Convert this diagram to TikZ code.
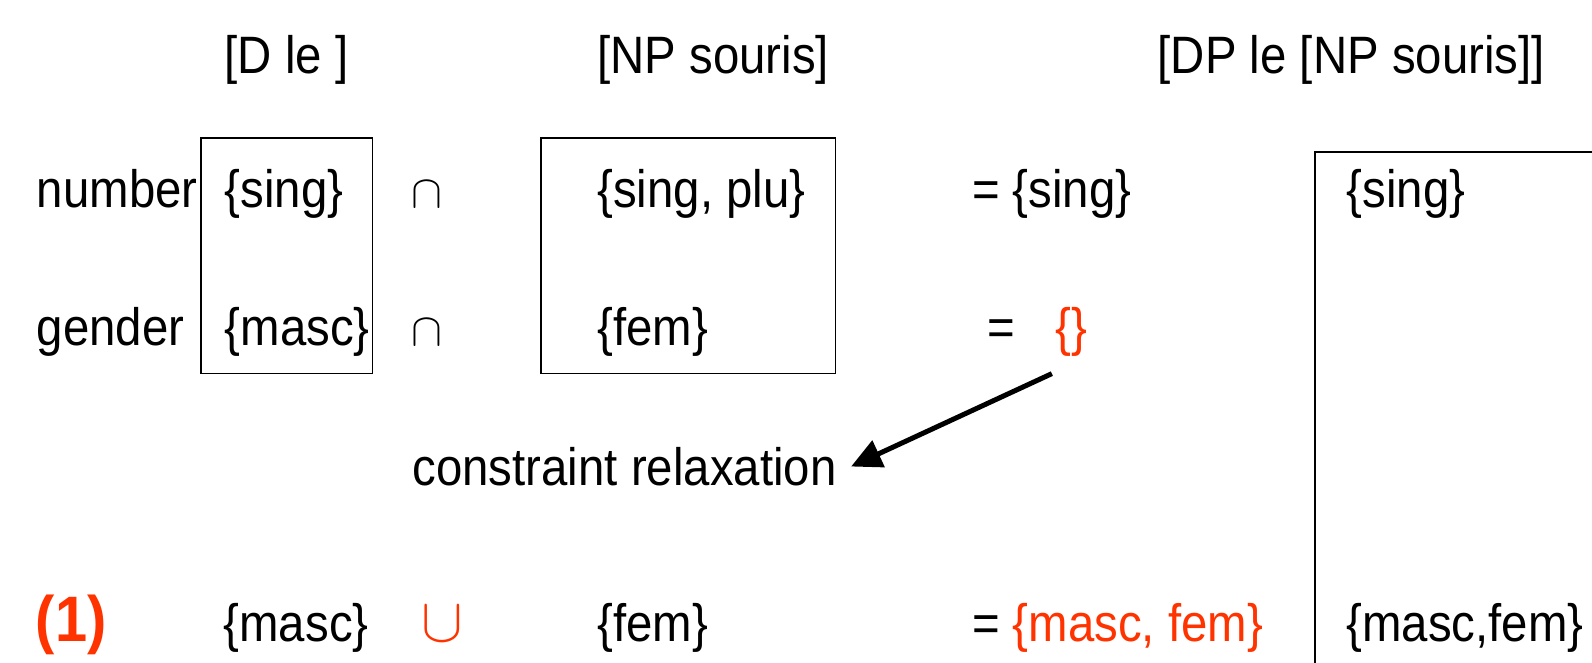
\documentclass[tikz,border=0pt]{standalone}
\usepackage{fontspec}
\setmainfont{Liberation Sans}[FakeStretch=0.9]
\usetikzlibrary{arrows.meta, positioning}
\definecolor{relaxred}{HTML}{FF3300}

\begin{document}
\begin{tikzpicture}[x=0.02cm, y=-0.02cm,
    feat/.style={font=\fontsize{29.5}{35}\selectfont, inner sep=0pt, anchor=base west},
    hot/.style={feat, text=relaxred},
    setop/.style={inner sep=0pt, anchor=base west},
    frame/.style={draw, line width=0.9pt}]
  \useasboundingbox (0,0) rectangle (1568,653);
  % Headers
  \node[feat] (dhead) at (221,72) {[D le ]};
  \node[feat] (nphead) at (588,72) {[NP souris]};
  \node[feat] (dphead) at (1140,72) {[DP le [NP souris]]};
  % Boxes
  \draw[frame] (198,136) rectangle (367,368);
  \draw[frame] (533,136) rectangle (823,368);
  \draw[frame] (1295,700) -- (1295,150) -- (1600,150);
  % Number row
  \node[feat] (numlbl) at (36,204) {number};
  \node[feat] (dsing) at (221,204) {\{sing\}};
  \node[setop] (cap1) at (405,204) {\scalebox{2.6}{$\cap$}};
  \node[feat] (npsing) at (588,204) {\{sing, plu\}};
  \node[feat] (sumsing) at (957,204) {= \{sing\}};
  \node[feat] (dpsing) at (1326,204) {\{sing\}};
  % Gender row
  \node[feat] (genlbl) at (36,340) {gender};
  \node[feat] (dmasc) at (221,340) {\{masc\}};
  \node[setop] (cap2) at (405,340) {\scalebox{2.6}{$\cap$}};
  \node[feat] (npfem) at (588,340) {\{fem\}};
  \node[feat] (geneq) at (972,340) {=};
  \node[hot] (empty) at (1039,340) {\{\}};
  % Relaxation
  \node[feat, inner xsep=8pt] (relaxlbl) at (392,478) {constraint relaxation};
  \coordinate (relaxfrom) at (1036,368);
  \draw[line width=2.8pt, -{Triangle[length=17pt, width=16pt]}] (relaxfrom) -- (relaxlbl.east);
  % Result row
  \node[hot, font=\fontsize{36}{40}\selectfont\bfseries] (exnum) at (35,632) {(1)};
  \node[feat] (dmasc2) at (220,632) {\{masc\}};
  \node[setop, text=relaxred] (cup) at (415,632) {\scalebox{3.5}{$\cup$}};
  \node[feat] (npfem2) at (588,632) {\{fem\}};
  \node[feat] (unioneq) at (957,632) {= \textcolor{relaxred}{\{masc, fem\}}};
  \node[feat] (dpgen) at (1326,632) {\{masc,fem\}};
\end{tikzpicture}
\end{document}
